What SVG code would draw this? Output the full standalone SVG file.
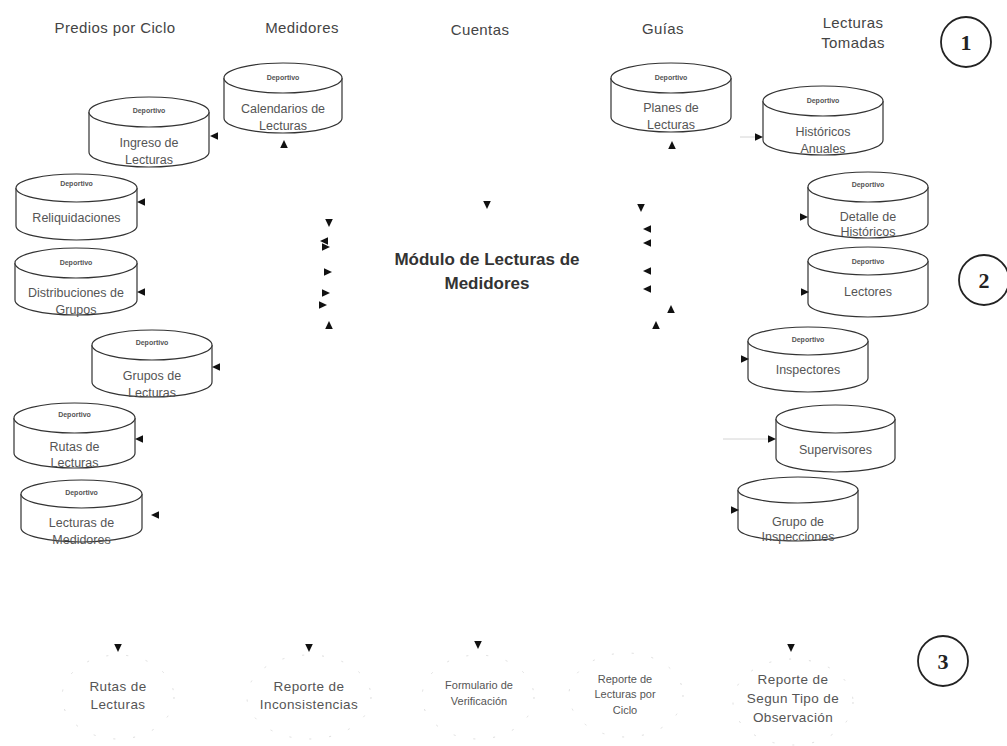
<svg xmlns="http://www.w3.org/2000/svg" xmlns:xlink="http://www.w3.org/1999/xlink" width="1007" height="746" viewBox="0 0 1007 746">
<defs>
<style>
.hd{font-family:"Liberation Sans",Arial,sans-serif;font-size:15px;letter-spacing:0.4px;fill:#444;text-anchor:middle}
.cyl{fill:#fff;stroke:#333;stroke-width:1.2}
.dep{font-family:"Liberation Sans",Arial,sans-serif;font-size:7px;font-weight:bold;fill:#555;text-anchor:middle}
.ct{font-family:"Liberation Sans",Arial,sans-serif;font-size:12.5px;fill:#555;text-anchor:middle}
.bt{font-family:"Liberation Sans",Arial,sans-serif;font-size:13.5px;letter-spacing:0.4px;fill:#555;text-anchor:middle}
.bs{font-family:"Liberation Sans",Arial,sans-serif;font-size:11px;fill:#555;text-anchor:middle}
.title{font-family:"Liberation Sans",Arial,sans-serif;font-size:17px;font-weight:bold;fill:#333;text-anchor:middle}
.num{fill:#fff;stroke:#222;stroke-width:1.8}
.numt{font-family:"Liberation Serif","Times New Roman",serif;font-size:22px;font-weight:bold;fill:#222;text-anchor:middle}
.oval{fill:none;stroke:#dedede;stroke-width:1;stroke-dasharray:2 18}
.faint{stroke:#d4d4d4;stroke-width:1}
.ah{fill:#111}
</style>
<path id="tri" d="M-4,-3.8 L4,0 L-4,3.8 Z"/>
</defs>
<rect width="1007" height="746" fill="#fff"/>

<g id="headers">
<text class="hd" x="115" y="33">Predios por Ciclo</text>
<text class="hd" x="302" y="33">Medidores</text>
<text class="hd" x="480" y="35">Cuentas</text>
<text class="hd" x="663" y="34">Guías</text>
<text class="hd" x="853" y="28">Lecturas</text>
<text class="hd" x="853" y="48">Tomadas</text>
</g>

<g id="n-calendarios">
<path class="cyl" d="M224,78 L224,118 A59,15 0 0 0 342,118 L342,78"/>
<ellipse class="cyl" cx="283" cy="78" rx="59" ry="15"/>
<text class="dep" x="283" y="80">Deportivo</text>
<text class="ct" x="283" y="113">Calendarios de</text>
<text class="ct" x="283" y="130">Lecturas</text>
</g>
<g id="n-ingreso">
<path class="cyl" d="M89,112 L89,152 A60,15 0 0 0 209,152 L209,112"/>
<ellipse class="cyl" cx="149" cy="112" rx="60" ry="15"/>
<text class="dep" x="149" y="113">Deportivo</text>
<text class="ct" x="149" y="147">Ingreso de</text>
<text class="ct" x="149" y="164">Lecturas</text>
</g>
<g id="n-reliquidaciones">
<path class="cyl" d="M16,188 L16,226 A60.5,14 0 0 0 137,226 L137,188"/>
<ellipse class="cyl" cx="76.5" cy="188" rx="60.5" ry="14"/>
<text class="dep" x="76.5" y="186">Deportivo</text>
<text class="ct" x="76.5" y="222">Reliquidaciones</text>
</g>
<g id="n-distribuciones">
<path class="cyl" d="M15,263 L15,300 A61,15 0 0 0 137,300 L137,263"/>
<ellipse class="cyl" cx="76" cy="263" rx="61" ry="15"/>
<text class="dep" x="76" y="265">Deportivo</text>
<text class="ct" x="76" y="297">Distribuciones de</text>
<text class="ct" x="76" y="314">Grupos</text>
</g>
<g id="n-grupos">
<path class="cyl" d="M92,345 L92,382 A60,15 0 0 0 212,382 L212,345"/>
<ellipse class="cyl" cx="152" cy="345" rx="60" ry="15"/>
<text class="dep" x="152" y="345">Deportivo</text>
<text class="ct" x="152" y="380">Grupos de</text>
<text class="ct" x="152" y="397">Lecturas</text>
</g>
<g id="n-rutas">
<path class="cyl" d="M14,418 L14,453 A60.5,15 0 0 0 135,453 L135,418"/>
<ellipse class="cyl" cx="74.5" cy="418" rx="60.5" ry="15"/>
<text class="dep" x="74.5" y="417">Deportivo</text>
<text class="ct" x="74.5" y="451">Rutas de</text>
<text class="ct" x="74.5" y="467">Lecturas</text>
</g>
<g id="n-lecturas-medidores">
<path class="cyl" d="M21,494 L21,528 A60.5,14 0 0 0 142,528 L142,494"/>
<ellipse class="cyl" cx="81.5" cy="494" rx="60.5" ry="14"/>
<text class="dep" x="81.5" y="495">Deportivo</text>
<text class="ct" x="81.5" y="527">Lecturas de</text>
<text class="ct" x="81.5" y="544">Medidores</text>
</g>

<g id="n-planes">
<path class="cyl" d="M611,78 L611,117 A60,15 0 0 0 731,117 L731,78"/>
<ellipse class="cyl" cx="671" cy="78" rx="60" ry="15"/>
<text class="dep" x="671" y="80">Deportivo</text>
<text class="ct" x="671" y="112">Planes de</text>
<text class="ct" x="671" y="129">Lecturas</text>
</g>
<g id="n-historicos-anuales">
<path class="cyl" d="M763,101 L763,140 A60,15 0 0 0 883,140 L883,101"/>
<ellipse class="cyl" cx="823" cy="101" rx="60" ry="15"/>
<text class="dep" x="823" y="103">Deportivo</text>
<text class="ct" x="823" y="136">Históricos</text>
<text class="ct" x="823" y="153">Anuales</text>
</g>
<g id="n-detalle">
<path class="cyl" d="M808,187 L808,223 A60,15 0 0 0 928,223 L928,187"/>
<ellipse class="cyl" cx="868" cy="187" rx="60" ry="15"/>
<text class="dep" x="868" y="187">Deportivo</text>
<text class="ct" x="868" y="221">Detalle de</text>
<text class="ct" x="868" y="236">Históricos</text>
</g>
<g id="n-lectores">
<path class="cyl" d="M808,261 L808,303 A60,14 0 0 0 928,303 L928,261"/>
<ellipse class="cyl" cx="868" cy="261" rx="60" ry="14"/>
<text class="dep" x="868" y="264">Deportivo</text>
<text class="ct" x="868" y="296">Lectores</text>
</g>
<g id="n-inspectores">
<path class="cyl" d="M748,341 L748,378 A60,14 0 0 0 868,378 L868,341"/>
<ellipse class="cyl" cx="808" cy="341" rx="60" ry="14"/>
<text class="dep" x="808" y="342">Deportivo</text>
<text class="ct" x="808" y="374">Inspectores</text>
</g>
<g id="n-supervisores">
<path class="cyl" d="M776,419 L776,458 A59.5,14 0 0 0 895,458 L895,419"/>
<ellipse class="cyl" cx="835.5" cy="419" rx="59.5" ry="14"/>
<text class="ct" x="835.5" y="454">Supervisores</text>
</g>
<g id="n-grupo-inspecciones">
<path class="cyl" d="M738,490 L738,528 A60,13 0 0 0 858,528 L858,490"/>
<ellipse class="cyl" cx="798" cy="490" rx="60" ry="13"/>
<text class="ct" x="798" y="526">Grupo de</text>
<text class="ct" x="798" y="541">Inspecciones</text>
</g>

<g id="n-modulo">
<text class="title" x="487" y="265">Módulo de Lecturas de</text>
<text class="title" x="487" y="289">Medidores</text>
</g>

<g id="n-r-rutas">
<ellipse class="oval" cx="118" cy="697" rx="56" ry="42"/>
<text class="bt" x="118" y="691">Rutas de</text>
<text class="bt" x="118" y="709">Lecturas</text>
</g>
<g id="n-r-inconsistencias">
<ellipse class="oval" cx="309" cy="697" rx="62" ry="42"/>
<text class="bt" x="309" y="691">Reporte de</text>
<text class="bt" x="309" y="709">Inconsistencias</text>
</g>
<g id="n-r-formulario">
<ellipse class="oval" cx="478" cy="697" rx="56" ry="42"/>
<text class="bs" x="479" y="689">Formulario de</text>
<text class="bs" x="479" y="705">Verificación</text>
</g>
<g id="n-r-ciclo">
<ellipse class="oval" cx="626" cy="695" rx="57" ry="42"/>
<text class="bs" x="625" y="683">Reporte de</text>
<text class="bs" x="625" y="698">Lecturas por</text>
<text class="bs" x="625" y="714">Ciclo</text>
</g>
<g id="n-r-observacion">
<ellipse class="oval" cx="793" cy="702" rx="60" ry="43"/>
<text class="bt" x="793" y="684">Reporte de</text>
<text class="bt" x="793" y="703">Segun Tipo de</text>
<text class="bt" x="793" y="722">Observación</text>
</g>

<g id="markers-numbers">
<circle class="num" cx="966" cy="42" r="25"/>
<text class="numt" x="966" y="50">1</text>
<circle class="num" cx="984" cy="280" r="25"/>
<text class="numt" x="984" y="288">2</text>
<circle class="num" cx="943" cy="661" r="25"/>
<text class="numt" x="943" y="669">3</text>
</g>

<g id="connectors">
<line class="faint" x1="740" y1="137" x2="756" y2="137"/>
<line class="faint" x1="723" y1="439" x2="768" y2="439"/>
<g class="ah">
<use xlink:href="#tri" transform="translate(284,144) rotate(-90)"/>
<use xlink:href="#tri" transform="translate(214,136) rotate(180)"/>
<use xlink:href="#tri" transform="translate(141,202) rotate(180)"/>
<use xlink:href="#tri" transform="translate(141,292) rotate(180)"/>
<use xlink:href="#tri" transform="translate(216,367) rotate(180)"/>
<use xlink:href="#tri" transform="translate(139,439) rotate(180)"/>
<use xlink:href="#tri" transform="translate(155,515) rotate(180)"/>
<use xlink:href="#tri" transform="translate(329,223) rotate(90)"/>
<use xlink:href="#tri" transform="translate(324,241) rotate(180)"/>
<use xlink:href="#tri" transform="translate(326,247)"/>
<use xlink:href="#tri" transform="translate(328,272)"/>
<use xlink:href="#tri" transform="translate(326,293)"/>
<use xlink:href="#tri" transform="translate(323,305)"/>
<use xlink:href="#tri" transform="translate(329,325) rotate(-90)"/>
<use xlink:href="#tri" transform="translate(487,205) rotate(90)"/>
<use xlink:href="#tri" transform="translate(641,208) rotate(90)"/>
<use xlink:href="#tri" transform="translate(647,229) rotate(180)"/>
<use xlink:href="#tri" transform="translate(647,243) rotate(180)"/>
<use xlink:href="#tri" transform="translate(647,271) rotate(180)"/>
<use xlink:href="#tri" transform="translate(647,289) rotate(180)"/>
<use xlink:href="#tri" transform="translate(671,309) rotate(-90)"/>
<use xlink:href="#tri" transform="translate(656,325) rotate(-90)"/>
<use xlink:href="#tri" transform="translate(672,145) rotate(-90)"/>
<use xlink:href="#tri" transform="translate(759,137)"/>
<use xlink:href="#tri" transform="translate(804,217)"/>
<use xlink:href="#tri" transform="translate(805,292)"/>
<use xlink:href="#tri" transform="translate(745,359)"/>
<use xlink:href="#tri" transform="translate(772,439)"/>
<use xlink:href="#tri" transform="translate(735,510)"/>
<use xlink:href="#tri" transform="translate(118,648) rotate(90)"/>
<use xlink:href="#tri" transform="translate(309,648) rotate(90)"/>
<use xlink:href="#tri" transform="translate(478,645) rotate(90)"/>
<use xlink:href="#tri" transform="translate(791,648) rotate(90)"/>
</g>
</g>
</svg>
